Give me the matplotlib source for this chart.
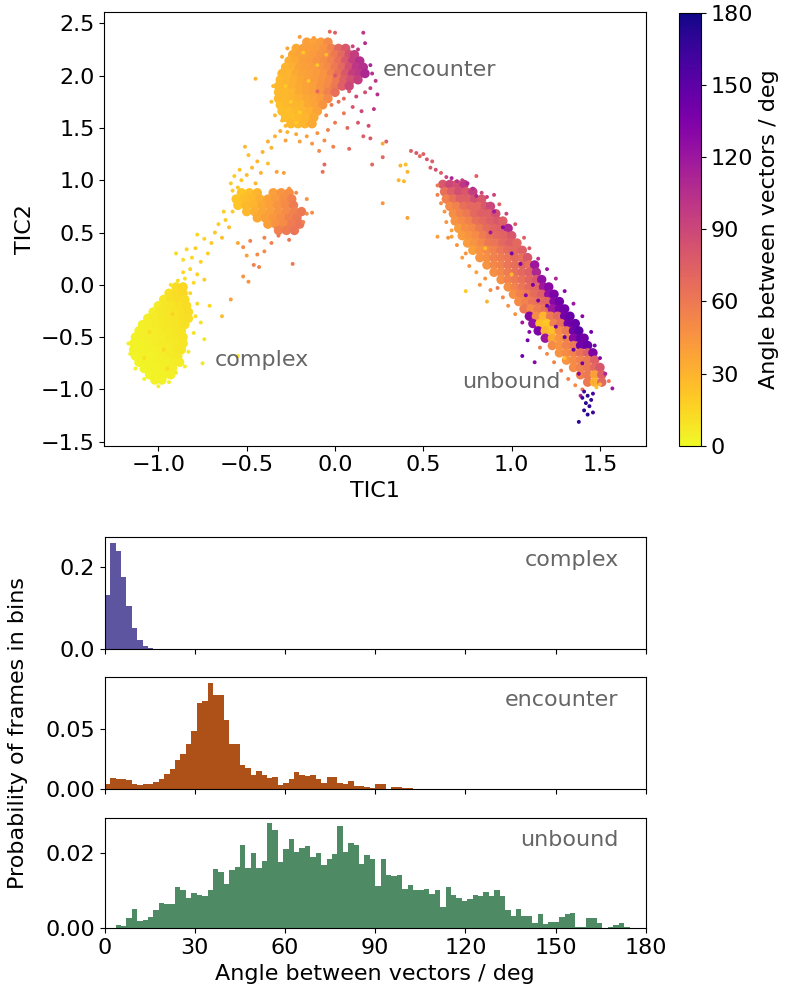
import numpy as np
import matplotlib
matplotlib.use('Agg')
import matplotlib.pyplot as plt

#  ----------------------- DATA ----------------------------------

# dense parts of the TIC map, stored row by row: (TIC2, [TIC1 ...], [angle ...])
complex_rows = [
    (-0.02, [-0.90, -0.86], [12, 14]),
    (-0.08, [-0.94, -0.90, -0.86], [10, 12, 14]),
    (-0.14, [-0.97, -0.93, -0.89, -0.85], [8, 10, 12, 12]),
    (-0.20, [-1.00, -0.96, -0.92, -0.88, -0.84], [6, 8, 9, 10, 12]),
    (-0.26, [-1.03, -0.99, -0.95, -0.91, -0.87, -0.83], [5, 7, 8, 9, 10, 12]),
    (-0.32, [-1.06, -1.02, -0.98, -0.94, -0.90, -0.86, -0.83], [5, 6, 7, 8, 9, 10, 11]),
    (-0.38, [-1.09, -1.05, -1.01, -0.97, -0.93, -0.89, -0.85], [4, 5, 6, 7, 8, 9, 10]),
    (-0.44, [-1.11, -1.07, -1.03, -0.99, -0.95, -0.91, -0.87], [4, 4, 5, 6, 7, 8, 9]),
    (-0.50, [-1.13, -1.09, -1.05, -1.01, -0.97, -0.93, -0.89, -0.86], [3, 4, 5, 5, 6, 7, 8, 9]),
    (-0.56, [-1.14, -1.10, -1.06, -1.02, -0.98, -0.94, -0.90, -0.86], [3, 3, 4, 5, 6, 6, 7, 8]),
    (-0.62, [-1.14, -1.10, -1.06, -1.02, -0.98, -0.94, -0.90, -0.87], [3, 3, 4, 4, 5, 6, 7, 8]),
    (-0.68, [-1.13, -1.09, -1.05, -1.01, -0.97, -0.93, -0.89], [2, 3, 3, 4, 5, 6, 7]),
    (-0.74, [-1.11, -1.07, -1.03, -0.99, -0.95, -0.91, -0.88], [2, 3, 3, 4, 4, 5, 6]),
    (-0.80, [-1.08, -1.04, -1.00, -0.96, -0.92], [2, 3, 3, 4, 5]),
    (-0.86, [-1.05, -1.01, -0.97, -0.93], [2, 3, 3, 4]),
    (-0.91, [-1.02, -0.98], [3, 3]),
]

middle_rows = [
    (0.88, [-0.53, -0.485, -0.44, -0.35, -0.305, -0.26], [22, 25, 30, 40, 45, 48]),
    (0.82, [-0.56, -0.515, -0.47, -0.425, -0.38, -0.335, -0.29, -0.245], [22, 25, 28, 32, 38, 42, 48, 55]),
    (0.76, [-0.55, -0.505, -0.46, -0.415, -0.37, -0.325, -0.28, -0.235], [22, 28, 30, 35, 40, 45, 50, 58]),
    (0.70, [-0.50, -0.455, -0.41, -0.365, -0.32, -0.275, -0.23, -0.19], [28, 32, 36, 40, 45, 50, 55, 60]),
    (0.64, [-0.44, -0.395, -0.35, -0.305, -0.26, -0.215], [35, 40, 44, 48, 55, 60]),
    (0.58, [-0.38, -0.335, -0.29, -0.245, -0.20], [40, 45, 50, 58, 62]),
    (0.52, [-0.32, -0.275, -0.23], [55, 58, 62]),
]

encounter_rows = [
    (2.32, [-0.16, -0.12, -0.08, -0.04], [40, 38, 42, 50]),
    (2.26, [-0.22, -0.18, -0.14, -0.10, -0.06, -0.02, 0.02, 0.06], [35, 40, 40, 42, 45, 55, 70, 80]),
    (2.20, [-0.24, -0.20, -0.16, -0.12, -0.08, -0.04, 0.00, 0.04, 0.08, 0.11],
     [35, 38, 40, 42, 45, 50, 60, 70, 85, 95]),
    (2.14, [-0.26, -0.22, -0.18, -0.14, -0.10, -0.06, -0.02, 0.02, 0.06, 0.10, 0.14],
     [32, 35, 40, 42, 45, 48, 55, 65, 80, 95, 105]),
    (2.08, [-0.28, -0.24, -0.20, -0.16, -0.12, -0.08, -0.04, 0.00, 0.04, 0.08, 0.12, 0.16],
     [30, 32, 38, 40, 42, 45, 50, 60, 70, 85, 100, 105]),
    (2.02, [-0.30, -0.26, -0.22, -0.18, -0.14, -0.10, -0.06, -0.02, 0.02, 0.06, 0.10, 0.14, 0.17],
     [30, 30, 35, 38, 40, 42, 45, 55, 65, 80, 95, 100, 110]),
    (1.96, [-0.31, -0.27, -0.23, -0.19, -0.15, -0.11, -0.07, -0.03, 0.01, 0.05, 0.09, 0.13],
     [28, 30, 32, 36, 40, 42, 45, 50, 60, 75, 85, 95]),
    (1.90, [-0.32, -0.28, -0.24, -0.20, -0.16, -0.12, -0.08, -0.04, 0.00, 0.04, 0.08],
     [28, 30, 32, 35, 38, 40, 45, 50, 60, 75, 90]),
    (1.84, [-0.32, -0.28, -0.24, -0.20, -0.16, -0.12, -0.08, -0.04, 0.00],
     [28, 28, 30, 35, 38, 40, 45, 55, 65]),
    (1.78, [-0.32, -0.28, -0.24, -0.20, -0.16, -0.12, -0.08, -0.04], [28, 28, 30, 32, 35, 38, 42, 50]),
    (1.72, [-0.31, -0.27, -0.23, -0.19, -0.15, -0.11, -0.07], [25, 28, 30, 30, 35, 38, 45]),
    (1.66, [-0.30, -0.26, -0.22, -0.18, -0.14, -0.10], [25, 25, 28, 30, 32, 38]),
    (1.60, [-0.28, -0.24, -0.20, -0.16, -0.12], [25, 25, 28, 30, 35]),
    (1.54, [-0.25, -0.21, -0.17, -0.13], [28, 28, 30, 35]),
]

unbound_rows = [
    (0.96, [0.61, 0.65, 0.69, 0.73], [80, 90, 85, 100]),
    (0.89, [0.62, 0.66, 0.70, 0.74, 0.78], [65, 75, 85, 80, 95]),
    (0.82, [0.63, 0.67, 0.71, 0.75, 0.79, 0.83], [55, 65, 75, 75, 85, 80]),
    (0.75, [0.65, 0.69, 0.73, 0.77, 0.81, 0.85, 0.88], [50, 55, 65, 70, 70, 80, 90]),
    (0.68, [0.67, 0.71, 0.75, 0.79, 0.83, 0.87, 0.91], [48, 55, 60, 70, 75, 75, 85]),
    (0.61, [0.68, 0.72, 0.76, 0.80, 0.84, 0.88, 0.92, 0.95], [45, 50, 55, 65, 70, 75, 80, 75]),
    (0.54, [0.70, 0.74, 0.78, 0.82, 0.86, 0.90, 0.94, 0.98], [42, 48, 52, 60, 68, 72, 75, 110]),
    (0.47, [0.72, 0.76, 0.80, 0.84, 0.88, 0.92, 0.96, 1.00], [42, 45, 50, 58, 65, 70, 72, 80]),
    (0.40, [0.75, 0.79, 0.83, 0.87, 0.91, 0.95, 0.99, 1.03], [42, 45, 52, 60, 62, 70, 75, 70]),
    (0.33, [0.78, 0.82, 0.86, 0.90, 0.94, 0.98, 1.02, 1.06], [40, 45, 50, 55, 62, 68, 70, 75]),
    (0.26, [0.82, 0.86, 0.90, 0.94, 0.98, 1.02, 1.06, 1.09], [45, 48, 55, 58, 62, 68, 65, 80]),
    (0.19, [0.86, 0.90, 0.94, 0.98, 1.02, 1.06, 1.10, 1.13], [45, 52, 55, 62, 66, 72, 65, 120]),
    (0.12, [0.90, 0.94, 0.98, 1.02, 1.06, 1.10, 1.14], [48, 52, 58, 65, 70, 75, 110]),
    (0.05, [0.94, 0.98, 1.02, 1.06, 1.10, 1.14, 1.17], [48, 55, 60, 65, 72, 80, 125]),
    (-0.02, [0.98, 1.02, 1.06, 1.10, 1.14, 1.18, 1.21], [48, 55, 62, 70, 72, 120, 130]),
    (-0.09, [1.01, 1.05, 1.09, 1.13, 1.17, 1.21, 1.24], [48, 55, 60, 68, 75, 125, 135]),
    (-0.16, [1.04, 1.08, 1.12, 1.16, 1.20, 1.24, 1.27], [50, 55, 62, 68, 72, 130, 140]),
    (-0.23, [1.07, 1.11, 1.15, 1.19, 1.23, 1.27, 1.30], [60, 50, 58, 65, 120, 135, 140]),
    (-0.30, [1.10, 1.14, 1.18, 1.22, 1.26, 1.30, 1.33], [130, 50, 30, 60, 70, 140, 145]),
    (-0.37, [1.12, 1.16, 1.20, 1.24, 1.28, 1.32, 1.36], [125, 25, 22, 55, 65, 140, 145]),
    (-0.44, [1.15, 1.19, 1.23, 1.27, 1.31, 1.35, 1.38], [135, 30, 25, 50, 60, 140, 150]),
    (-0.51, [1.19, 1.23, 1.27, 1.31, 1.35, 1.39, 1.41], [120, 35, 45, 55, 130, 145, 140]),
    (-0.58, [1.23, 1.27, 1.31, 1.35, 1.39, 1.43], [50, 45, 55, 60, 140, 145]),
    (-0.65, [1.27, 1.31, 1.35, 1.39, 1.43, 1.46], [45, 50, 55, 65, 75, 135]),
    (-0.72, [1.31, 1.35, 1.39, 1.43, 1.47], [45, 50, 55, 60, 75]),
    (-0.79, [1.35, 1.39, 1.43, 1.47, 1.50], [50, 55, 60, 70, 80]),
    (-0.86, [1.39, 1.43, 1.47, 1.51], [55, 60, 40, 75]),
    (-0.93, [1.43, 1.47, 1.51], [60, 30, 70]),
]

# loose frames around (and on top of) the dense parts: (TIC1, TIC2, angle)
loose_points = [
    # around complex and the path up
    (-1.17, -0.56, 4), (-1.16, -0.66, 3), (-1.13, -0.80, 3), (-1.08, -0.90, 3), (-1.00, -0.97, 4),
    (-0.94, -0.93, 4), (-0.90, -0.84, 5), (-0.85, -0.78, 6), (-0.83, -0.64, 7), (-0.80, -0.46, 9),
    (-0.79, -0.30, 12), (-0.76, -0.36, 10), (-0.74, -0.52, 9), (-0.75, -0.75, 8), (-0.55, -0.68, 8),
    (-0.71, -0.20, 15), (-0.78, -0.18, 14), (-0.82, -0.08, 15), (-0.80, 0.02, 14), (-0.85, 0.06, 12),
    (-0.89, 0.04, 12), (-0.93, 0.00, 10), (-0.86, 0.12, 14), (-0.82, 0.15, 15), (-0.78, 0.10, 16),
    (-0.74, 0.05, 18), (-0.76, 0.22, 16), (-0.81, 0.26, 14), (-0.86, 0.24, 12), (-0.90, 0.30, 12),
    (-0.84, 0.34, 15), (-0.79, 0.35, 18), (-0.72, 0.30, 18), (-0.70, 0.40, 20), (-0.74, 0.44, 16),
    (-0.78, 0.48, 15), (-0.68, 0.50, 22), (-0.64, 0.45, 25), (-0.66, 0.58, 18), (-0.62, 0.62, 20),
    (-0.60, 0.55, 25), (-0.58, 0.70, 20), (-0.63, 0.70, 18), (-0.59, -0.14, 40), (-0.64, -0.30, 25),
    (-0.52, 0.08, 45), (-0.49, 0.03, 45), (-0.46, 0.19, 55), (-0.43, 0.17, 55), (-0.44, 0.29, 50),
    (-0.40, 0.32, 50), (-0.24, 0.20, 60), (-0.52, 0.36, 50), (-0.48, 0.42, 55), (-0.50, 0.28, 40),
    (-0.55, 0.40, 35), (-0.40, 0.45, 55), (-0.36, 0.40, 55), (-0.32, 0.47, 60), (-0.26, 0.43, 60),
    (-0.22, 0.52, 60), (-0.18, 0.60, 55), (-0.16, 0.68, 50), (-0.13, 0.69, 50), (-0.16, 0.82, 45),
    (-0.58, 0.90, 20), (-0.55, 0.93, 22), (-0.22, 0.88, 50), (-0.26, 0.92, 45),
    (-1.05, -0.45, 12), (-0.97, -0.62, 14), (-0.92, -0.28, 16), (-1.08, -0.70, 10), (-0.95, -0.80, 12),
    # bridge to encounter
    (-0.53, 1.00, 22), (-0.59, 0.97, 20), (-0.50, 1.05, 25), (-0.47, 1.12, 28), (-0.54, 1.10, 22),
    (-0.45, 0.97, 30), (-0.49, 1.24, 25), (-0.41, 1.27, 30), (-0.51, 1.32, 28), (-0.38, 1.37, 32),
    (-0.36, 1.31, 30), (-0.38, 1.16, 25), (-0.42, 1.07, 30), (-0.33, 1.08, 40), (-0.29, 1.07, 40),
    (-0.44, 1.18, 28), (-0.57, 1.04, 18), (-0.34, 1.42, 32), (-0.31, 1.47, 35), (-0.28, 1.38, 40),
    # around encounter
    (-0.45, 1.97, 30), (-0.34, 1.62, 28), (-0.36, 1.75, 25), (-0.35, 1.90, 28), (-0.30, 2.18, 35),
    (-0.27, 2.26, 38), (-0.20, 2.37, 42), (-0.12, 2.36, 40), (-0.03, 2.42, 70), (0.00, 2.41, 75),
    (0.16, 2.41, 100), (0.17, 2.31, 105), (0.10, 2.28, 90), (0.13, 2.25, 100), (0.20, 2.10, 110),
    (0.21, 2.02, 105), (0.23, 1.95, 100), (0.20, 1.88, 95), (0.24, 1.82, 105), (0.17, 1.84, 85),
    (0.12, 1.80, 90), (0.08, 1.85, 80), (0.05, 1.78, 70), (0.02, 1.75, 65), (-0.02, 1.72, 60),
    (0.10, 1.70, 80), (0.15, 1.66, 90), (0.22, 1.68, 100), (0.05, 1.64, 60), (-0.05, 1.62, 55),
    (0.13, 1.55, 80), (0.19, 1.52, 85), (0.07, 1.50, 70), (0.00, 1.55, 60), (-0.04, 1.48, 55),
    (-0.10, 1.45, 45), (-0.16, 1.42, 40), (-0.22, 1.44, 35), (-0.27, 1.46, 30), (-0.20, 1.37, 40),
    (-0.13, 1.35, 45), (-0.06, 1.38, 50), (-0.01, 1.32, 55), (0.16, 1.42, 75), (0.20, 1.40, 80),
    (0.29, 1.37, 75), (0.27, 1.22, 70), (0.21, 1.15, 70), (-0.06, 1.15, 70), (-0.07, 1.08, 65),
    (0.08, 1.30, 70), (-0.09, 1.28, 50), (-0.28, 1.52, 30), (-0.30, 1.57, 28),
    (-0.25, 1.75, 18), (-0.15, 1.95, 20), (-0.20, 1.65, 18), (-0.10, 2.10, 22), (-0.28, 1.90, 20),
    (-0.05, 2.20, 25), (-0.10, 1.85, 70), (0.00, 2.00, 80), (-0.18, 2.22, 22), (-0.22, 1.55, 20),
    # between encounter and unbound
    (0.27, 0.78, 45), (0.41, 0.64, 40), (0.37, 1.14, 30), (0.40, 1.15, 25), (0.41, 1.08, 30),
    (0.36, 1.00, 28), (0.39, 0.99, 28), (0.27, 1.35, 35),
    # around unbound
    (0.43, 1.28, 75), (0.46, 1.26, 80), (0.48, 1.23, 70), (0.50, 1.25, 75), (0.52, 1.20, 80),
    (0.55, 1.18, 75), (0.54, 1.12, 80), (0.57, 1.10, 85), (0.60, 1.07, 75), (0.63, 1.03, 90),
    (0.66, 1.02, 110), (0.69, 0.99, 100), (0.72, 1.00, 95), (0.75, 0.97, 110), (0.80, 1.04, 75),
    (0.78, 0.92, 105), (0.83, 0.88, 90), (0.86, 0.84, 95), (0.58, 0.95, 60), (0.58, 0.86, 55),
    (0.60, 0.78, 50), (0.62, 0.70, 45), (0.63, 0.60, 45), (0.66, 0.52, 40), (0.64, 0.45, 45),
    (0.58, 0.46, 40), (0.66, 0.46, 40), (0.69, 0.38, 45), (0.72, 0.26, 40), (0.74, 0.30, 45),
    (0.76, 0.18, 45), (0.80, 0.12, 40), (0.82, 0.00, 45), (0.74, -0.06, 20), (0.86, -0.16, 30),
    (0.92, -0.03, 60), (0.85, 0.06, 45), (0.88, -0.05, 50), (0.95, -0.12, 50), (0.98, -0.20, 45),
    (1.02, -0.28, 45), (1.06, -0.36, 120), (1.06, -0.68, 140), (1.13, -0.74, 130), (1.09, -0.53, 140),
    (1.10, -0.45, 130), (1.16, -0.60, 60), (1.20, -0.66, 50), (1.24, -0.74, 55), (1.28, -0.82, 60),
    (1.32, -0.90, 55), (1.36, -0.96, 50), (1.40, -1.00, 60), (1.39, -1.06, 110), (1.57, -0.99, 120),
    (1.55, -0.92, 60), (1.53, -0.85, 110), (1.50, -0.70, 130), (1.47, -0.58, 140), (1.45, -0.45, 140),
    (1.40, -0.30, 130), (1.35, -0.18, 120), (1.30, -0.06, 130), (1.25, 0.06, 110), (1.20, 0.15, 120),
    (1.15, 0.25, 100), (1.10, 0.35, 80), (1.07, 0.45, 75), (1.02, 0.58, 80), (0.97, 0.68, 90),
    (0.93, 0.77, 75), (0.90, 0.86, 90), (1.48, -0.98, 25), (1.50, -0.95, 30), (1.46, -0.93, 35),
    (0.95, 0.55, 130), (1.00, 0.30, 140), (1.05, 0.20, 135), (0.90, 0.70, 120), (1.12, 0.00, 140),
    (1.08, -0.10, 130), (1.20, -0.20, 145), (1.30, -0.50, 150), (1.25, -0.40, 140), (1.35, -0.62, 145),
    (1.40, -0.75, 140), (0.80, 0.85, 110), (0.85, 0.35, 25), (1.00, 0.10, 28), (1.30, -0.70, 25),
    (0.88, 0.50, 120), (1.15, -0.15, 135), (1.38, -0.85, 130),
    (1.41, -1.02, 160), (1.43, -1.06, 170), (1.45, -1.10, 165), (1.42, -1.13, 172), (1.44, -1.16, 168),
    (1.41, -1.20, 172), (1.43, -1.24, 170), (1.46, -1.22, 165), (1.38, -1.31, 170), (1.40, -1.08, 165),
    (1.46, -1.04, 160),
]

# histograms: probability per 1.8 deg bin, starting at 0 deg
complex_prob = [0.131, 0.259, 0.238, 0.176, 0.106, 0.051, 0.022, 0.007, 0.002]
encounter_prob = [0.0042, 0.0089, 0.0086, 0.0086, 0.0078, 0.0044, 0.0036, 0.0039, 0.0039, 0.0058,
                  0.0086, 0.0125, 0.0169, 0.0242, 0.0292, 0.0375, 0.0481, 0.0711, 0.0725, 0.0881,
                  0.0781, 0.0781, 0.0569, 0.0375, 0.0375, 0.0200, 0.0172, 0.0117, 0.0150, 0.0114,
                  0.0092, 0.0097, 0.0036, 0.0053, 0.0083, 0.0139, 0.0114, 0.0108, 0.0117, 0.0086,
                  0.0053, 0.0097, 0.0100, 0.0050, 0.0039, 0.0064, 0.0025, 0.0028, 0.0019, 0.0011,
                  0.0039, 0.0039, 0.0000, 0.0014, 0.0014, 0.0006, 0.0008]
unbound_prob = [0.0001, 0.0002, 0.0009, 0.0007, 0.0027, 0.0050, 0.0019, 0.0022, 0.0030, 0.0048,
                0.0066, 0.0063, 0.0063, 0.0108, 0.0101, 0.0081, 0.0093, 0.0087, 0.0085, 0.0102,
                0.0157, 0.0149, 0.0117, 0.0155, 0.0161, 0.0220, 0.0159, 0.0198, 0.0160, 0.0177,
                0.0278, 0.0260, 0.0174, 0.0209, 0.0235, 0.0201, 0.0213, 0.0218, 0.0188, 0.0200,
                0.0167, 0.0182, 0.0196, 0.0270, 0.0201, 0.0224, 0.0221, 0.0169, 0.0194, 0.0183,
                0.0112, 0.0182, 0.0141, 0.0138, 0.0141, 0.0103, 0.0114, 0.0100, 0.0100, 0.0104,
                0.0090, 0.0100, 0.0055, 0.0108, 0.0087, 0.0081, 0.0072, 0.0078, 0.0089, 0.0086,
                0.0095, 0.0086, 0.0100, 0.0086, 0.0049, 0.0033, 0.0050, 0.0033, 0.0033, 0.0013,
                0.0037, 0.0011, 0.0018, 0.0017, 0.0031, 0.0039, 0.0041, 0.0004, 0.0004, 0.0027,
                0.0028, 0.0015, 0.0002, 0.0004, 0.0009, 0.0015, 0.0003]

hist_names = ['complex', 'encounter', 'unbound']
hist_colors = ['#5d559f', '#ad5119', '#4e8b64']
hist_yticks = [[0.0, 0.2], [0.0, 0.05], [0.0, 0.02]]
hist_yticklabels = [['0.0', '0.2'], ['0.00', '0.05'], ['0.00', '0.02']]
bin_width = 1.8

#  ----------------------- FIGURE ----------------------------------

plt.rcParams['font.size'] = 16
plt.rcParams['font.family'] = ['DejaVu Sans']
label_grey = '#666666'

fig = plt.figure(figsize=(7.94, 10.01), dpi=100)


def unpack_rows(rows):
    xs, ys, cs = [], [], []
    for y, row_x, row_c in rows:
        xs += row_x
        ys += [y] * len(row_x)
        cs += row_c
    return xs, ys, cs


ax = fig.add_axes([0.1314, 0.5547, 0.6819, 0.4330])
cmap = plt.get_cmap('plasma_r')

for rows in [complex_rows, middle_rows, encounter_rows, unbound_rows]:
    xs, ys, cs = unpack_rows(rows)
    ax.scatter(xs, ys, c=cs, cmap=cmap, vmin=0, vmax=180, s=46, linewidths=0)

lx, ly, lc = zip(*loose_points)
sc = ax.scatter(lx, ly, c=lc, cmap=cmap, vmin=0, vmax=180, s=8, linewidths=0)

ax.set_xlim(-1.306, 1.759)
ax.set_ylim(-1.538, 2.605)
ax.set_xticks([-1.0, -0.5, 0.0, 0.5, 1.0, 1.5])
ax.set_yticks([-1.5, -1.0, -0.5, 0.0, 0.5, 1.0, 1.5, 2.0, 2.5])
ax.set_xlabel('TIC1')
ax.set_ylabel('TIC2')

ax.text(0.27, 2.05, 'encounter', color=label_grey, ha='left', va='center')
ax.text(-0.68, -0.72, 'complex', color=label_grey, ha='left', va='center')
ax.text(0.72, -0.93, 'unbound', color=label_grey, ha='left', va='center')

cax = fig.add_axes([0.8552, 0.5547, 0.0277, 0.4326])
cb = fig.colorbar(sc, cax=cax)
cb.set_ticks([0, 30, 60, 90, 120, 150, 180])
cb.set_label('Angle between vectors / deg')

#  ----------------------- HISTOGRAMS ----------------------------------

hist_bottoms = [0.3516, 0.2118, 0.0726]
hist_heights = [0.1116, 0.1116, 0.1105]
hist_data = [complex_prob, encounter_prob, unbound_prob]

for i in range(3):
    hax = fig.add_axes([0.1319, hist_bottoms[i], 0.6814, hist_heights[i]])
    prob = hist_data[i]
    left_edges = np.arange(len(prob)) * bin_width
    hax.bar(left_edges, prob, width=bin_width, align='edge', color=hist_colors[i], linewidth=0)
    hax.set_xlim(0, 180)
    hax.set_xticks([0, 30, 60, 90, 120, 150, 180])
    hax.set_yticks(hist_yticks[i])
    hax.set_yticklabels(hist_yticklabels[i])
    hax.text(0.95, 0.8, hist_names[i], color=label_grey, ha='right', va='center',
             transform=hax.transAxes)
    if i < 2:
        hax.set_xticklabels([])
    else:
        hax.set_xlabel('Angle between vectors / deg')

fig.text(0.023, 0.2677, 'Probability of frames in bins', rotation=90, ha='center', va='center')

fig.savefig('out.png', dpi=100)
